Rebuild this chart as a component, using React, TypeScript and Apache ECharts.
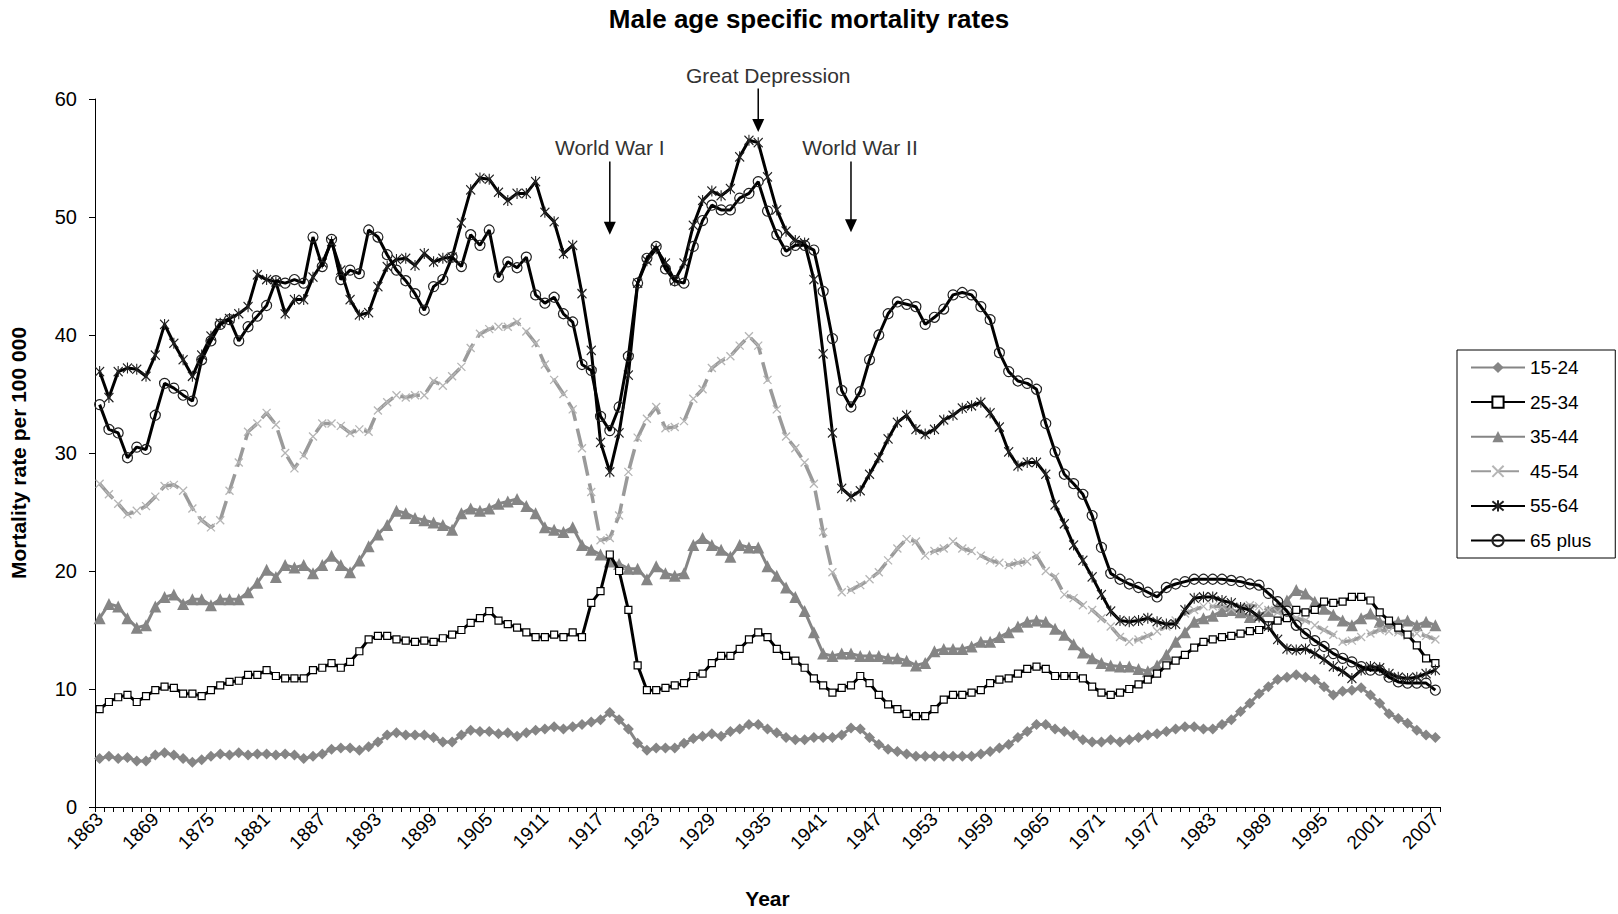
import React, { useEffect, useRef } from 'react';
import * as echarts from 'echarts';

// ---------- categories ----------
const FIRST_YEAR = 1863;
const LAST_YEAR = 2007;
const years: string[] = [];
for (let y = FIRST_YEAR; y <= LAST_YEAR; y++) years.push(String(y));

const seriesNames = ['15-24', '25-34', '35-44', '45-54', '55-64', '65 plus'];
const yTicks = [0, 10, 20, 30, 40, 50, 60];

// ---------- series values (1863 .. 2007) ----------
const age15_24 = [
  4.1, 4.3, 4.1, 4.2, 3.9, 3.9, 4.4, // 1863-1869
  4.6, 4.4, 4.1, 3.8, 4.0, 4.3, 4.5, 4.4, 4.6, 4.4, // 1870s
  4.5, 4.5, 4.4, 4.5, 4.4, 4.1, 4.3, 4.5, 4.9, 5.0, // 1880s
  5.0, 4.8, 5.1, 5.5, 6.1, 6.3, 6.1, 6.1, 6.1, 5.9, // 1890s
  5.5, 5.5, 6.1, 6.5, 6.4, 6.4, 6.2, 6.3, 6.0, 6.3, // 1900s
  6.5, 6.6, 6.8, 6.6, 6.8, 7.0, 7.2, 7.4, 8.0, 7.4, // 1910s
  6.6, 5.4, 4.8, 5.0, 5.0, 5.0, 5.4, 5.8, 6.0, 6.2, // 1920s
  6.0, 6.4, 6.6, 7.0, 7.0, 6.6, 6.3, 5.9, 5.7, 5.7, // 1930s
  5.9, 5.9, 5.9, 6.1, 6.7, 6.6, 5.9, 5.3, 4.9, 4.7, // 1940s
  4.5, 4.3, 4.3, 4.3, 4.3, 4.3, 4.3, 4.3, 4.5, 4.7, // 1950s
  5.0, 5.3, 5.9, 6.4, 7.0, 7.0, 6.6, 6.4, 6.1, 5.7, // 1960s
  5.5, 5.5, 5.7, 5.5, 5.7, 5.9, 6.1, 6.2, 6.4, 6.6, // 1970s
  6.8, 6.8, 6.6, 6.6, 7.0, 7.4, 8.1, 8.8, 9.6, 10.2, // 1980s
  10.8, 11.0, 11.2, 11.0, 10.8, 10.2, 9.5, 9.8, 9.9, 10.1, // 1990s
  9.5, 8.8, 7.9, 7.5, 7.1, 6.5, 6.1, 5.9, // 2000-2007
];

const age25_34 = [
  8.3, 8.9, 9.3, 9.5, 8.9, 9.4, 9.9,
  10.2, 10.1, 9.6, 9.6, 9.4, 9.9, 10.3, 10.6, 10.7, 11.2,
  11.2, 11.6, 11.1, 10.9, 10.9, 10.9, 11.6, 11.8, 12.2, 11.8,
  12.3, 13.2, 14.2, 14.5, 14.5, 14.2, 14.1, 14.0, 14.1, 14.0,
  14.3, 14.6, 15.0, 15.6, 16.0, 16.6, 15.8, 15.5, 15.2, 14.8,
  14.4, 14.4, 14.6, 14.4, 14.8, 14.4, 17.3, 18.3, 21.4, 20.0,
  16.7, 12.0, 9.9, 9.9, 10.1, 10.3, 10.5, 11.1, 11.3, 12.2,
  12.8, 12.8, 13.4, 14.2, 14.8, 14.4, 13.4, 12.8, 12.4, 11.8,
  10.9, 10.3, 9.7, 10.1, 10.3, 11.1, 10.5, 9.5, 8.7, 8.3,
  7.9, 7.7, 7.7, 8.3, 9.1, 9.5, 9.5, 9.7, 9.9, 10.5,
  10.8, 10.9, 11.3, 11.7, 11.9, 11.7, 11.1, 11.1, 11.1, 10.9,
  10.2, 9.7, 9.5, 9.7, 10.0, 10.4, 10.8, 11.3, 12.0, 12.4,
  12.9, 13.5, 14.0, 14.2, 14.4, 14.5, 14.7, 14.9, 15.0, 15.4,
  15.8, 16.0, 16.7, 16.5, 16.7, 17.4, 17.3, 17.4, 17.8, 17.8,
  17.5, 16.5, 15.8, 15.2, 14.6, 13.7, 12.6, 12.2,
];

const age35_44 = [
  16.0, 17.2, 17.0, 16.0, 15.2, 15.4, 17.0,
  17.8, 18.0, 17.2, 17.6, 17.6, 17.1, 17.6, 17.6, 17.6, 18.2,
  19.0, 20.1, 19.5, 20.5, 20.3, 20.5, 19.8, 20.5, 21.3, 20.5,
  19.9, 20.9, 22.1, 23.1, 23.9, 25.1, 24.9, 24.5, 24.3, 24.1,
  23.9, 23.5, 24.9, 25.3, 25.1, 25.3, 25.7, 25.9, 26.1, 25.5,
  24.9, 23.7, 23.5, 23.3, 23.7, 22.2, 21.8, 21.4, 20.8, 20.6,
  20.2, 20.2, 19.3, 20.4, 19.8, 19.6, 19.8, 22.2, 22.8, 22.2,
  21.8, 21.2, 22.2, 22.0, 22.0, 20.4, 19.6, 18.6, 17.8, 16.6,
  14.8, 13.0, 12.8, 13.0, 13.0, 12.8, 12.8, 12.8, 12.6, 12.6,
  12.4, 12.0, 12.2, 13.2, 13.4, 13.4, 13.4, 13.6, 14.0, 14.0,
  14.4, 14.8, 15.3, 15.7, 15.8, 15.7, 15.1, 14.6, 13.8, 13.1,
  12.6, 12.2, 12.0, 11.9, 11.9, 11.7, 11.5, 12.0, 12.9, 14.0,
  14.8, 15.7, 16.0, 16.2, 16.6, 16.7, 16.5, 16.1, 16.3, 16.6,
  17.0, 17.5, 18.4, 18.1, 17.4, 16.8, 16.3, 15.8, 15.4, 16.0,
  16.4, 15.7, 15.6, 15.7, 15.8, 15.4, 15.7, 15.4,
];

const age45_54 = [
  27.4, 26.5, 25.7, 24.8, 25.1, 25.5, 26.3,
  27.2, 27.3, 26.8, 25.3, 24.3, 23.7, 24.3, 26.8, 29.2, 31.8,
  32.5, 33.4, 32.4, 30.0, 28.7, 29.8, 31.4, 32.5, 32.5, 32.3,
  31.7, 32.0, 31.8, 33.6, 34.3, 34.9, 34.7, 34.9, 34.9, 36.1,
  35.7, 36.5, 37.3, 38.9, 40.1, 40.5, 40.7, 40.7, 41.1, 40.3,
  39.3, 37.5, 36.2, 35.0, 33.7, 30.4, 26.7, 22.6, 22.8, 24.7,
  28.4, 31.3, 32.9, 33.9, 32.1, 32.2, 32.7, 34.6, 35.4, 37.2,
  37.8, 38.2, 39.1, 39.9, 39.1, 36.2, 33.7, 31.4, 30.4, 29.2,
  27.4, 23.3, 19.9, 18.2, 18.4, 18.8, 19.3, 19.9, 20.9, 21.9,
  22.7, 22.5, 21.3, 21.7, 21.9, 22.5, 21.9, 21.7, 21.3, 20.9,
  20.7, 20.5, 20.7, 20.8, 21.3, 20.0, 19.5, 18.0, 17.7, 17.1,
  16.7, 16.0, 15.3, 14.4, 14.0, 14.2, 14.5, 14.9, 15.3, 15.8,
  16.4, 16.7, 17.0, 17.0, 17.0, 16.8, 17.0, 17.1, 17.0, 16.7,
  16.5, 16.3, 16.0, 15.8, 15.4, 15.0, 14.6, 14.0, 14.1, 14.4,
  14.7, 15.0, 14.9, 14.8, 14.5, 14.7, 14.5, 14.2,
];

const age55_64 = [
  36.9, 34.7, 36.9, 37.2, 37.1, 36.5, 38.3,
  40.9, 39.3, 37.9, 36.5, 38.3, 39.9, 41.0, 41.4, 41.8, 42.4,
  45.1, 44.7, 44.5, 41.8, 43.0, 43.0, 44.9, 46.1, 47.9, 45.5,
  43.0, 41.7, 41.9, 44.1, 45.8, 46.4, 46.5, 45.9, 46.9, 46.2,
  46.5, 46.6, 49.5, 52.3, 53.3, 53.2, 52.1, 51.4, 52.0, 52.0,
  53.0, 50.4, 49.6, 46.9, 47.6, 43.5, 38.7, 30.9, 28.4, 31.7,
  36.6, 44.4, 46.3, 47.3, 46.1, 44.6, 46.1, 49.3, 51.4, 52.2,
  51.8, 52.4, 55.1, 56.5, 56.3, 53.4, 50.6, 48.8, 48.0, 47.8,
  44.7, 38.4, 31.7, 27.0, 26.3, 26.8, 28.2, 29.6, 31.2, 32.6,
  33.2, 32.0, 31.6, 32.0, 32.8, 33.2, 33.8, 34.0, 34.3, 33.4,
  32.2, 30.1, 28.9, 29.2, 29.2, 28.2, 25.6, 24.0, 22.2, 20.9,
  19.5, 18.0, 16.6, 15.8, 15.7, 15.8, 16.0, 15.7, 15.5, 15.5,
  16.7, 17.7, 17.8, 17.8, 17.5, 17.3, 16.9, 16.7, 16.1, 15.3,
  14.2, 13.4, 13.3, 13.4, 13.0, 12.5, 11.9, 11.5, 10.9, 11.6,
  11.9, 11.8, 11.3, 11.0, 10.9, 11.0, 11.3, 11.6,
];

const age65plus = [
  34.1, 32.0, 31.7, 29.6, 30.5, 30.3, 33.2,
  35.9, 35.5, 34.9, 34.4, 37.9, 39.5, 40.9, 41.3, 39.5, 40.7,
  41.6, 42.5, 44.6, 44.4, 44.7, 44.4, 48.3, 45.8, 48.1, 44.7,
  45.5, 45.2, 48.9, 48.3, 46.8, 45.5, 44.6, 43.5, 42.1, 44.1,
  44.7, 46.6, 45.8, 48.5, 47.6, 48.9, 44.9, 46.2, 45.7, 46.6,
  43.4, 42.7, 43.2, 41.8, 41.1, 37.5, 37.0, 33.1, 31.9, 33.9,
  38.2, 44.4, 46.5, 47.5, 45.6, 44.6, 44.4, 47.5, 49.7, 51.0,
  50.6, 50.6, 51.6, 52.0, 53.0, 50.5, 48.5, 47.1, 47.6, 47.6,
  47.2, 43.7, 39.7, 35.3, 33.9, 35.2, 37.9, 40.0, 41.8, 42.8,
  42.6, 42.4, 40.9, 41.5, 42.2, 43.4, 43.6, 43.4, 42.4, 41.3,
  38.5, 36.9, 36.1, 35.9, 35.4, 32.5, 30.1, 28.2, 27.4, 26.5,
  24.7, 22.0, 19.8, 19.3, 18.9, 18.6, 18.2, 17.8, 18.6, 18.9,
  19.1, 19.3, 19.3, 19.3, 19.3, 19.2, 19.1, 18.9, 18.8, 18.1,
  17.4, 16.6, 15.4, 14.7, 14.1, 13.6, 13.0, 12.6, 12.3, 11.9,
  11.6, 11.6, 11.0, 10.6, 10.5, 10.5, 10.5, 9.9,
];

// ---------- annotations ----------
const annotationLabels = ['World War I', 'Great Depression', 'World War II'];
const annotationYears = ['1918', '1934', '1944'];
const annotationTextValues = [55.9, 62.0, 55.9];
const annotationArrowTop = [54.7, 60.9, 54.7];
const annotationArrowTip = [48.5, 57.2, 48.7];
const annotationTextShift = [0, 10, 9];

const FONT = "'Liberation Sans', Arial, sans-serif";
const GRAY = '#858585';
const LIGHT_GRAY = '#9a9a9a';
const BLACK = '#000000';

export default function App() {
  const ref = useRef<HTMLDivElement>(null);

  useEffect(() => {
    if (!ref.current) return;
    const chart = echarts.init(ref.current, null, { renderer: 'svg' });

    const X_PATH = 'path://M0,0L10,10M10,0L0,10';
    const STAR_PATH = 'path://M0,1L10,11M10,1L0,11M5,0L5,12';

    const common = { type: 'line', showAllSymbol: true, showSymbol: true };

    const option: any = {
      animation: false,
      backgroundColor: '#ffffff',
      title: {
        text: 'Male age specific mortality rates',
        left: 'center',
        top: 1,
        textStyle: { fontFamily: FONT, fontSize: 26, fontWeight: 'bold', color: '#000' },
      },
      legend: {
        orient: 'vertical',
        left: 1457,
        top: 350,
        padding: [8, 24, 8, 13],
        itemGap: 15.6,
        itemWidth: 54,
        itemHeight: 14,
        borderColor: '#000',
        borderWidth: 1,
        textStyle: { fontFamily: FONT, fontSize: 19, color: '#000' },
        data: seriesNames,
      },
      grid: { left: 95, right: 178, top: 99, bottom: 107, containLabel: false },
      xAxis: {
        type: 'category',
        data: years,
        boundaryGap: true,
        name: 'Year',
        nameLocation: 'middle',
        nameGap: 81,
        nameTextStyle: { fontFamily: FONT, fontSize: 21, fontWeight: 'bold', color: '#000' },
        axisLine: { lineStyle: { color: '#000', width: 1 } },
        axisTick: { show: true, interval: 0, length: 5, lineStyle: { color: '#000' } },
        axisLabel: {
          interval: 5,
          rotate: 45,
          margin: 9,
          fontFamily: FONT,
          fontSize: 19,
          color: '#000',
        },
        splitLine: { show: false },
      },
      yAxis: {
        type: 'value',
        min: yTicks[0],
        max: yTicks[yTicks.length - 1],
        interval: 10,
        name: 'Mortality rate per 100 000',
        nameLocation: 'middle',
        nameRotate: 90,
        nameGap: 66,
        nameTextStyle: { fontFamily: FONT, fontSize: 21, fontWeight: 'bold', color: '#000' },
        axisLine: { show: true, lineStyle: { color: '#000', width: 1 } },
        axisTick: { show: true, length: 6, lineStyle: { color: '#000' } },
        axisLabel: { fontFamily: FONT, fontSize: 20, color: '#000', margin: 18 },
        splitLine: { show: false },
      },
      series: [
        {
          ...common,
          name: seriesNames[0],
          data: age15_24,
          symbol: 'diamond',
          symbolSize: 11,
          color: GRAY,
          lineStyle: { color: GRAY, width: 3 },
          itemStyle: { color: GRAY, borderWidth: 0 },
          z: 2,
        },
        {
          ...common,
          name: seriesNames[1],
          data: age25_34,
          symbol: 'rect',
          symbolSize: 7,
          color: BLACK,
          lineStyle: { color: BLACK, width: 3 },
          itemStyle: { color: '#ffffff', borderColor: BLACK, borderWidth: 1.2 },
          z: 3,
        },
        {
          ...common,
          name: seriesNames[2],
          data: age35_44,
          symbol: 'triangle',
          symbolSize: 12,
          color: GRAY,
          lineStyle: { color: GRAY, width: 3 },
          itemStyle: { color: GRAY, borderWidth: 0 },
          z: 2,
        },
        {
          ...common,
          name: seriesNames[3],
          data: age45_54,
          symbol: X_PATH,
          symbolSize: 8,
          color: LIGHT_GRAY,
          lineStyle: { color: LIGHT_GRAY, width: 3.5, type: [20, 8] },
          itemStyle: { color: 'rgba(0,0,0,0)', borderColor: '#b5b5b5', borderWidth: 1.3 },
          z: 2,
        },
        {
          ...common,
          name: seriesNames[4],
          data: age55_64,
          symbol: STAR_PATH,
          symbolSize: [9, 11],
          color: BLACK,
          lineStyle: { color: BLACK, width: 3 },
          itemStyle: { color: 'rgba(0,0,0,0)', borderColor: '#222', borderWidth: 1.2 },
          z: 3,
        },
        {
          ...common,
          name: seriesNames[5],
          data: age65plus,
          symbol: 'circle',
          symbolSize: 10,
          color: BLACK,
          lineStyle: { color: BLACK, width: 3 },
          itemStyle: { color: 'rgba(0,0,0,0)', borderColor: '#222', borderWidth: 1.2 },
          z: 4,
        },
      ],
    };

    chart.setOption(option);

    // annotations, positioned through the chart's own scales
    const graphics: any[] = [];
    annotationLabels.forEach((label, i) => {
      const x = chart.convertToPixel({ xAxisIndex: 0 }, annotationYears[i]) as number;
      const yText = chart.convertToPixel({ yAxisIndex: 0 }, annotationTextValues[i]) as number;
      const yTop = chart.convertToPixel({ yAxisIndex: 0 }, annotationArrowTop[i]) as number;
      const yTip = chart.convertToPixel({ yAxisIndex: 0 }, annotationArrowTip[i]) as number;
      graphics.push({
        type: 'text',
        x: x + annotationTextShift[i],
        y: yText,
        style: {
          text: label,
          fontFamily: FONT,
          fontSize: 21,
          fill: '#333',
          align: 'center',
          verticalAlign: 'middle',
        },
        z: 10,
      });
      graphics.push({
        type: 'line',
        shape: { x1: x, y1: yTop, x2: x, y2: yTip - 10 },
        style: { stroke: '#000', lineWidth: 1.5 },
        z: 10,
      });
      graphics.push({
        type: 'polygon',
        shape: { points: [[x - 6, yTip - 13], [x + 6, yTip - 13], [x, yTip]] },
        style: { fill: '#000' },
        z: 10,
      });
    });
    chart.setOption({ graphic: graphics });

    return () => {
      chart.dispose();
    };
  }, []);

  return (
    <div
      ref={ref}
      style={{ position: 'fixed', left: 0, top: 0, width: 1618, height: 914, background: '#fff' }}
    />
  );
}
